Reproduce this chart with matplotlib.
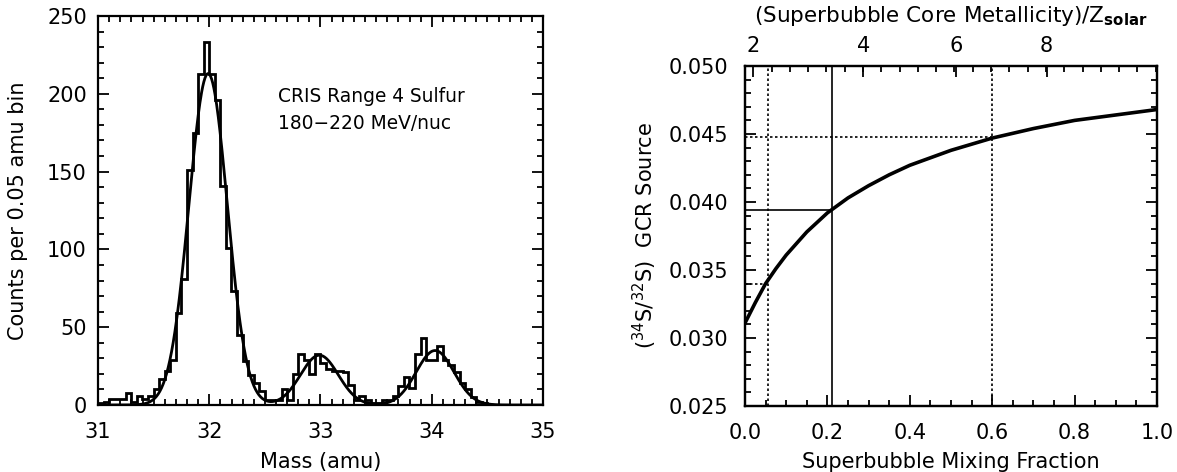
import numpy as np
import matplotlib
matplotlib.use('Agg')
import matplotlib.pyplot as plt

plt.rcParams['font.family'] = ['DejaVu Sans']
plt.rcParams['mathtext.fontset'] = 'dejavusans'

# ---- left panel: CRIS sulfur mass histogram (0.05 amu bins from 31.0)
bin_start = 31.0
bin_width = 0.05
counts = [1, 2, 4, 4, 4, 8, 2, 6, 4, 6,           # 31.00 - 31.45
          10, 17, 22, 29, 59, 81, 151, 175, 213, 233,   # 31.50 - 31.95
          213, 196, 141, 101, 73, 45, 28, 19, 14, 9,    # 32.00 - 32.45
          3, 3, 3, 10, 3, 20, 33, 29, 20, 33,           # 32.50 - 32.95
          27, 23, 22, 22, 21, 13, 3, 6, 3, 1,           # 33.00 - 33.45
          1, 3, 3, 6, 12, 18, 11, 33, 43, 29,           # 33.50 - 33.95
          29, 38, 29, 26, 21, 14, 10, 5, 2, 1,          # 34.00 - 34.45
          0, 0, 0, 0, 0, 0, 0, 0, 0, 0]                 # 34.50 - 34.95

# gaussian fit parameters (S-32, S-33, S-34)
peak_centers = [31.99, 32.99, 34.03]
peak_heights = [213, 32, 35]
peak_widths = [0.172, 0.17, 0.17]

# ---- right panel: source ratio vs mixing fraction
mix_frac = [0.0, 0.025, 0.05, 0.075, 0.1, 0.15, 0.2, 0.25, 0.3, 0.35,
            0.4, 0.5, 0.6, 0.7, 0.8, 0.9, 1.0]
ratio = [0.0311, 0.0326, 0.0340, 0.0351, 0.0361, 0.0378, 0.0392, 0.0403,
         0.0412, 0.0420, 0.0427, 0.0438, 0.0447, 0.0454, 0.0460, 0.0464, 0.0468]

solid_frac, solid_ratio = 0.21, 0.0394
dot_frac = [0.055, 0.6]
dot_ratio = [0.0340, 0.0448]

# top axis: core metallicity labels at mixing-fraction positions
top_tick_frac = [0.02, 0.287, 0.512, 0.732]
top_tick_lab = ['2', '4', '6', '8']

fig = plt.figure(figsize=(11.77, 4.72), dpi=100)

def idl_ticks(ax, pad):
    ax.tick_params(which='both', direction='in', top=True, right=True, labelsize=15,
                   width=1.3)
    ax.tick_params(axis='x', pad=12)
    ax.tick_params(axis='y', pad=pad)
    ax.tick_params(which='major', length=8)
    ax.tick_params(which='minor', length=4)
    for s in ax.spines.values():
        s.set_linewidth(1.6)

ax1 = fig.add_axes([98/1177, 67/472, 445/1177, 389/472])
edges = bin_start + bin_width*np.arange(len(counts) + 1)
ax1.stairs(counts, edges, color='black', linewidth=2.0)
xm = np.linspace(31, 35, 800)
fit = np.zeros_like(xm)
for c, h, w in zip(peak_centers, peak_heights, peak_widths):
    fit += h*np.exp(-0.5*((xm - c)/w)**2)
ax1.plot(xm, fit, color='black', linewidth=2.0)
ax1.set_xlim(31, 35)
ax1.set_ylim(0, 250)
ax1.set_xticks([31, 32, 33, 34, 35])
ax1.set_xticks(np.arange(31, 35.01, 0.1), minor=True)
ax1.set_yticks([0, 50, 100, 150, 200, 250])
ax1.set_yticks(np.arange(0, 251, 10), minor=True)
idl_ticks(ax1, 8)
ax1.set_xlabel('Mass (amu)', fontsize=15)
ax1.set_ylabel('Counts per 0.05 amu bin', fontsize=15)
ax1.xaxis.set_label_coords(0.5, -0.122)
ax1.yaxis.set_label_coords(-0.158, 0.5)
ax1.text(32.62, 198, 'CRIS Range 4 Sulfur', fontsize=13.4, va='center')
ax1.text(32.62, 181, '180\u2212220 MeV/nuc', fontsize=13.4, va='center')

ax2 = fig.add_axes([745/1177, 66/472, 412/1177, 340/472])
ax2.plot(mix_frac, ratio, color='black', linewidth=2.6)
ax2.plot([solid_frac, solid_frac], [0.025, 0.050], color='black', linewidth=1.2)
ax2.plot([0, solid_frac], [solid_ratio, solid_ratio], color='black', linewidth=1.2)
for f, r in zip(dot_frac, dot_ratio):
    ax2.plot([f, f], [0.025, 0.050], color='black', linewidth=1.2, linestyle=(0, (1.5, 1.5)))
    ax2.plot([0, f], [r, r], color='black', linewidth=1.2, linestyle=(0, (1.5, 1.5)))
ax2.set_xlim(0, 1)
ax2.set_ylim(0.025, 0.050)
ax2.set_xticks([0, 0.2, 0.4, 0.6, 0.8, 1.0])
ax2.set_xticklabels(['0.0', '0.2', '0.4', '0.6', '0.8', '1.0'])
ax2.set_xticks(np.arange(0, 1.001, 0.05), minor=True)
ax2.set_yticks([0.025, 0.030, 0.035, 0.040, 0.045, 0.050])
ax2.set_yticklabels(['0.025', '0.030', '0.035', '0.040', '0.045', '0.050'])
ax2.set_yticks(np.arange(0.025, 0.05001, 0.001), minor=True)
idl_ticks(ax2, 12)
ax2.tick_params(top=False, which='both')
ax2.set_xlabel('Superbubble Mixing Fraction', fontsize=15)
ax2.set_ylabel('($^{34}$S/$^{32}$S)  GCR Source', fontsize=15)
ax2.xaxis.set_label_coords(0.5, -0.135)
ax2.yaxis.set_label_coords(-0.208, 0.5)

ax3 = ax2.twiny()
ax3.set_xlim(0, 1)
ax3.set_xticks(top_tick_frac)
ax3.set_xticklabels(top_tick_lab)
ax3.set_xticks(np.arange(0.02, 1.0, 0.0444), minor=True)
ax3.tick_params(which='both', direction='in', labelsize=15, width=1.3, pad=7)
ax3.tick_params(which='major', length=8)
ax3.tick_params(which='minor', length=4)
for s in ax3.spines.values():
    s.set_linewidth(1.6)
ax3.set_xlabel(r'(Superbubble Core Metallicity)/Z$_{\mathbf{solar}}$', fontsize=15.5)
ax3.xaxis.set_label_coords(0.5, 1.13)

fig.savefig('out.png', dpi=100)
